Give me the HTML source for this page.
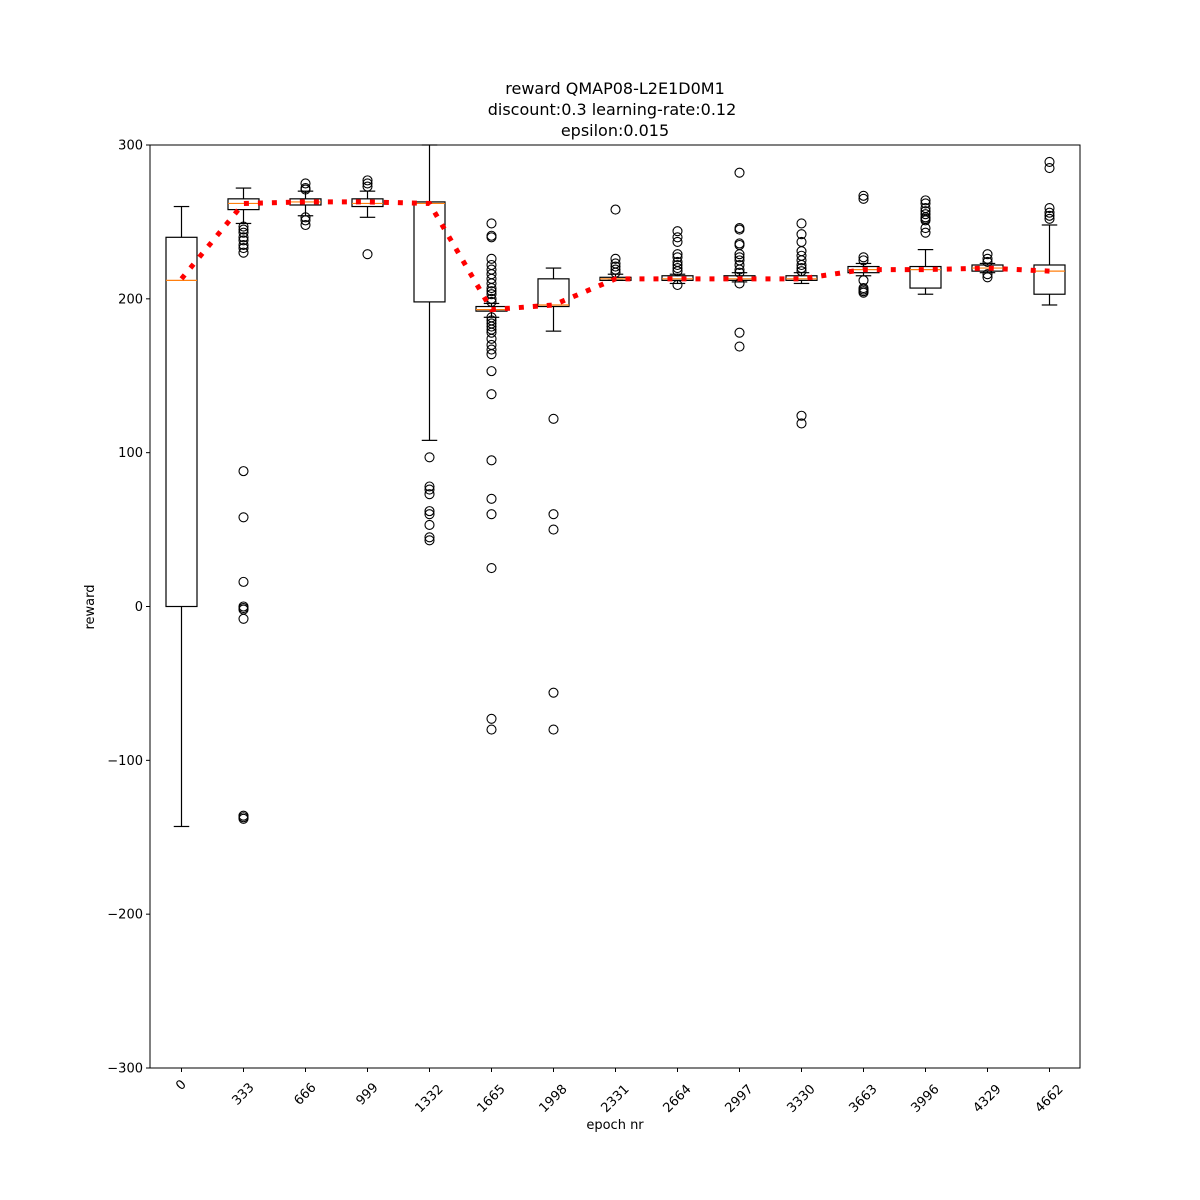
<!DOCTYPE html>
<html><head><meta charset="utf-8"><style>body{margin:0;background:#fff}svg{display:block;font-family:"DejaVu Sans","Liberation Sans",sans-serif}</style></head>
<body>
<svg id="chart" width="1200" height="1200" xmlns="http://www.w3.org/2000/svg">
<rect width="1200" height="1200" fill="#fff"/>
<g font-size="16" text-anchor="middle">
<text x="615" y="94">reward QMAP08-L2E1D0M1</text>
<text x="612" y="115">discount:0.3 learning-rate:0.12</text>
<text x="615" y="136">epsilon:0.015</text>
</g>
<g id="marks"></g>
<g id="axes"></g>
<text x="615" y="1129" font-size="13" text-anchor="middle">epoch nr</text>
<text x="0" y="0" font-size="13" text-anchor="middle" transform="translate(94,607) rotate(-90)">reward</text>
</svg>
<script>
const categories=["0","333","666","999","1332","1665","1998","2331","2664","2997","3330","3663","3996","4329","4662"];
const q1=[0,258,261,260,198,192,195,212,212,212,212,217,207,218,203];
const q3=[240,265,265,265,263,195,213,214,215,215,215,221,221,222,222];
const medians=[212,262,263,262,262,193,196,213,213,213,213,219,219,220,218];
const whiskLow=[-143,249,254,253,108,188,179,212,210,211,210,215,203,217,196];
const whiskHigh=[260,272,270,270,300,197,220,216,216,217,217,223,232,223,248];
const means=[213,262,263,263,262,193,196,213,213,213,213,219,219,220,218];
const outliers=[[],
[247,245,243,240,238,235,233,230,88,58,16,0,-1,-2,-8,-136,-137,-138],
[275,272,271,253,251,248],
[277,275,273,229],
[97,78,76,73,62,60,53,45,43],
[249,241,240,226,222,219,216,213,210,207,205,203,200,198,188,186,184,182,180,178,174,170,167,164,153,138,95,70,60,25,-73,-80],
[122,60,50,-56,-80],
[258,226,223,221,219,217],
[244,240,237,229,227,224,222,220,218,209],
[282,246,245,236,235,229,227,225,222,219,217,210,178,169],
[249,242,237,231,228,225,222,220,218,124,119],
[267,265,227,225,212,207,206,205,204],
[264,262,259,257,255,253,252,251,246,243],
[229,226,224,216,214],
[289,285,259,256,254,252]];
const yTicks=[-300,-200,-100,0,100,200,300];
const L=150,R=1080,T=145,B=1068;
const yS=v=>B-(v+300)/600*(B-T);
const xS=i=>181.5+i*62;
const NS="http://www.w3.org/2000/svg";
function mk(p,tag,a){const e=document.createElementNS(NS,tag);for(const k in a)e.setAttribute(k,a[k]);p.appendChild(e);return e;}
const marks=document.getElementById('marks'),axes=document.getElementById('axes');
const hw=15.5,cw=7.75;
categories.forEach((c,i)=>{
 const x=xS(i);
 const g=mk(marks,'g',{});
 
 
 const top=Math.max(yS(whiskHigh[i]),T);
 mk(g,'line',{x1:x,x2:x,y1:yS(q3[i]),y2:top,stroke:'#000','stroke-width':1.2});
 mk(g,'line',{x1:x,x2:x,y1:yS(q1[i]),y2:yS(whiskLow[i]),stroke:'#000','stroke-width':1.2});
 if(yS(whiskHigh[i])>=T) mk(g,'line',{x1:x-cw,x2:x+cw,y1:yS(whiskHigh[i]),y2:yS(whiskHigh[i]),stroke:'#000','stroke-width':1.2});
 mk(g,'line',{x1:x-cw,x2:x+cw,y1:yS(whiskLow[i]),y2:yS(whiskLow[i]),stroke:'#000','stroke-width':1.2});
 mk(g,'rect',{x:x-hw,y:yS(q3[i]),width:2*hw,height:Math.max(yS(q1[i])-yS(q3[i]),0.5),fill:'none',stroke:'#000','stroke-width':1.2});
 mk(g,'line',{x1:x-hw,x2:x+hw,y1:yS(medians[i]),y2:yS(medians[i]),stroke:'#ff7f0e','stroke-width':1.2});
 outliers[i].forEach(v=>{
  const o=mk(g,'circle',{cx:x,cy:yS(v),r:4.5,fill:'none',stroke:'#000','stroke-width':1.1});
  
  
 });
});
const ml=mk(marks,'polyline',{points:means.map((m,i)=>xS(i)+','+yS(m)).join(' '),fill:'none',stroke:'#ff0000','stroke-width':5,'stroke-dasharray':'5,9'});


const fr=mk(axes,'rect',{x:L,y:T,width:R-L,height:B-T,fill:'none',stroke:'#000','stroke-width':1});


yTicks.forEach(v=>{
 const y=yS(v);
 mk(axes,'line',{x1:L-4,x2:L,y1:y,y2:y,stroke:'#000'});
 const t=mk(axes,'text',{x:L-7,y:y+4.5,'font-size':13,'text-anchor':'end'});
 
 
 t.textContent=v<0?'\u2212'+(-v):String(v);
});
categories.forEach((c,i)=>{
 const x=xS(i);
 mk(axes,'line',{x1:x,x2:x,y1:B,y2:B+4,stroke:'#000'});
 const cy=1081+c.length*4.5;
 const t=mk(axes,'text',{x:x,y:cy,'font-size':13,'text-anchor':'middle','dominant-baseline':'central',transform:`rotate(-45 ${x} ${cy})`});
 
 
 t.textContent=c;
});
</script>
</body></html>
